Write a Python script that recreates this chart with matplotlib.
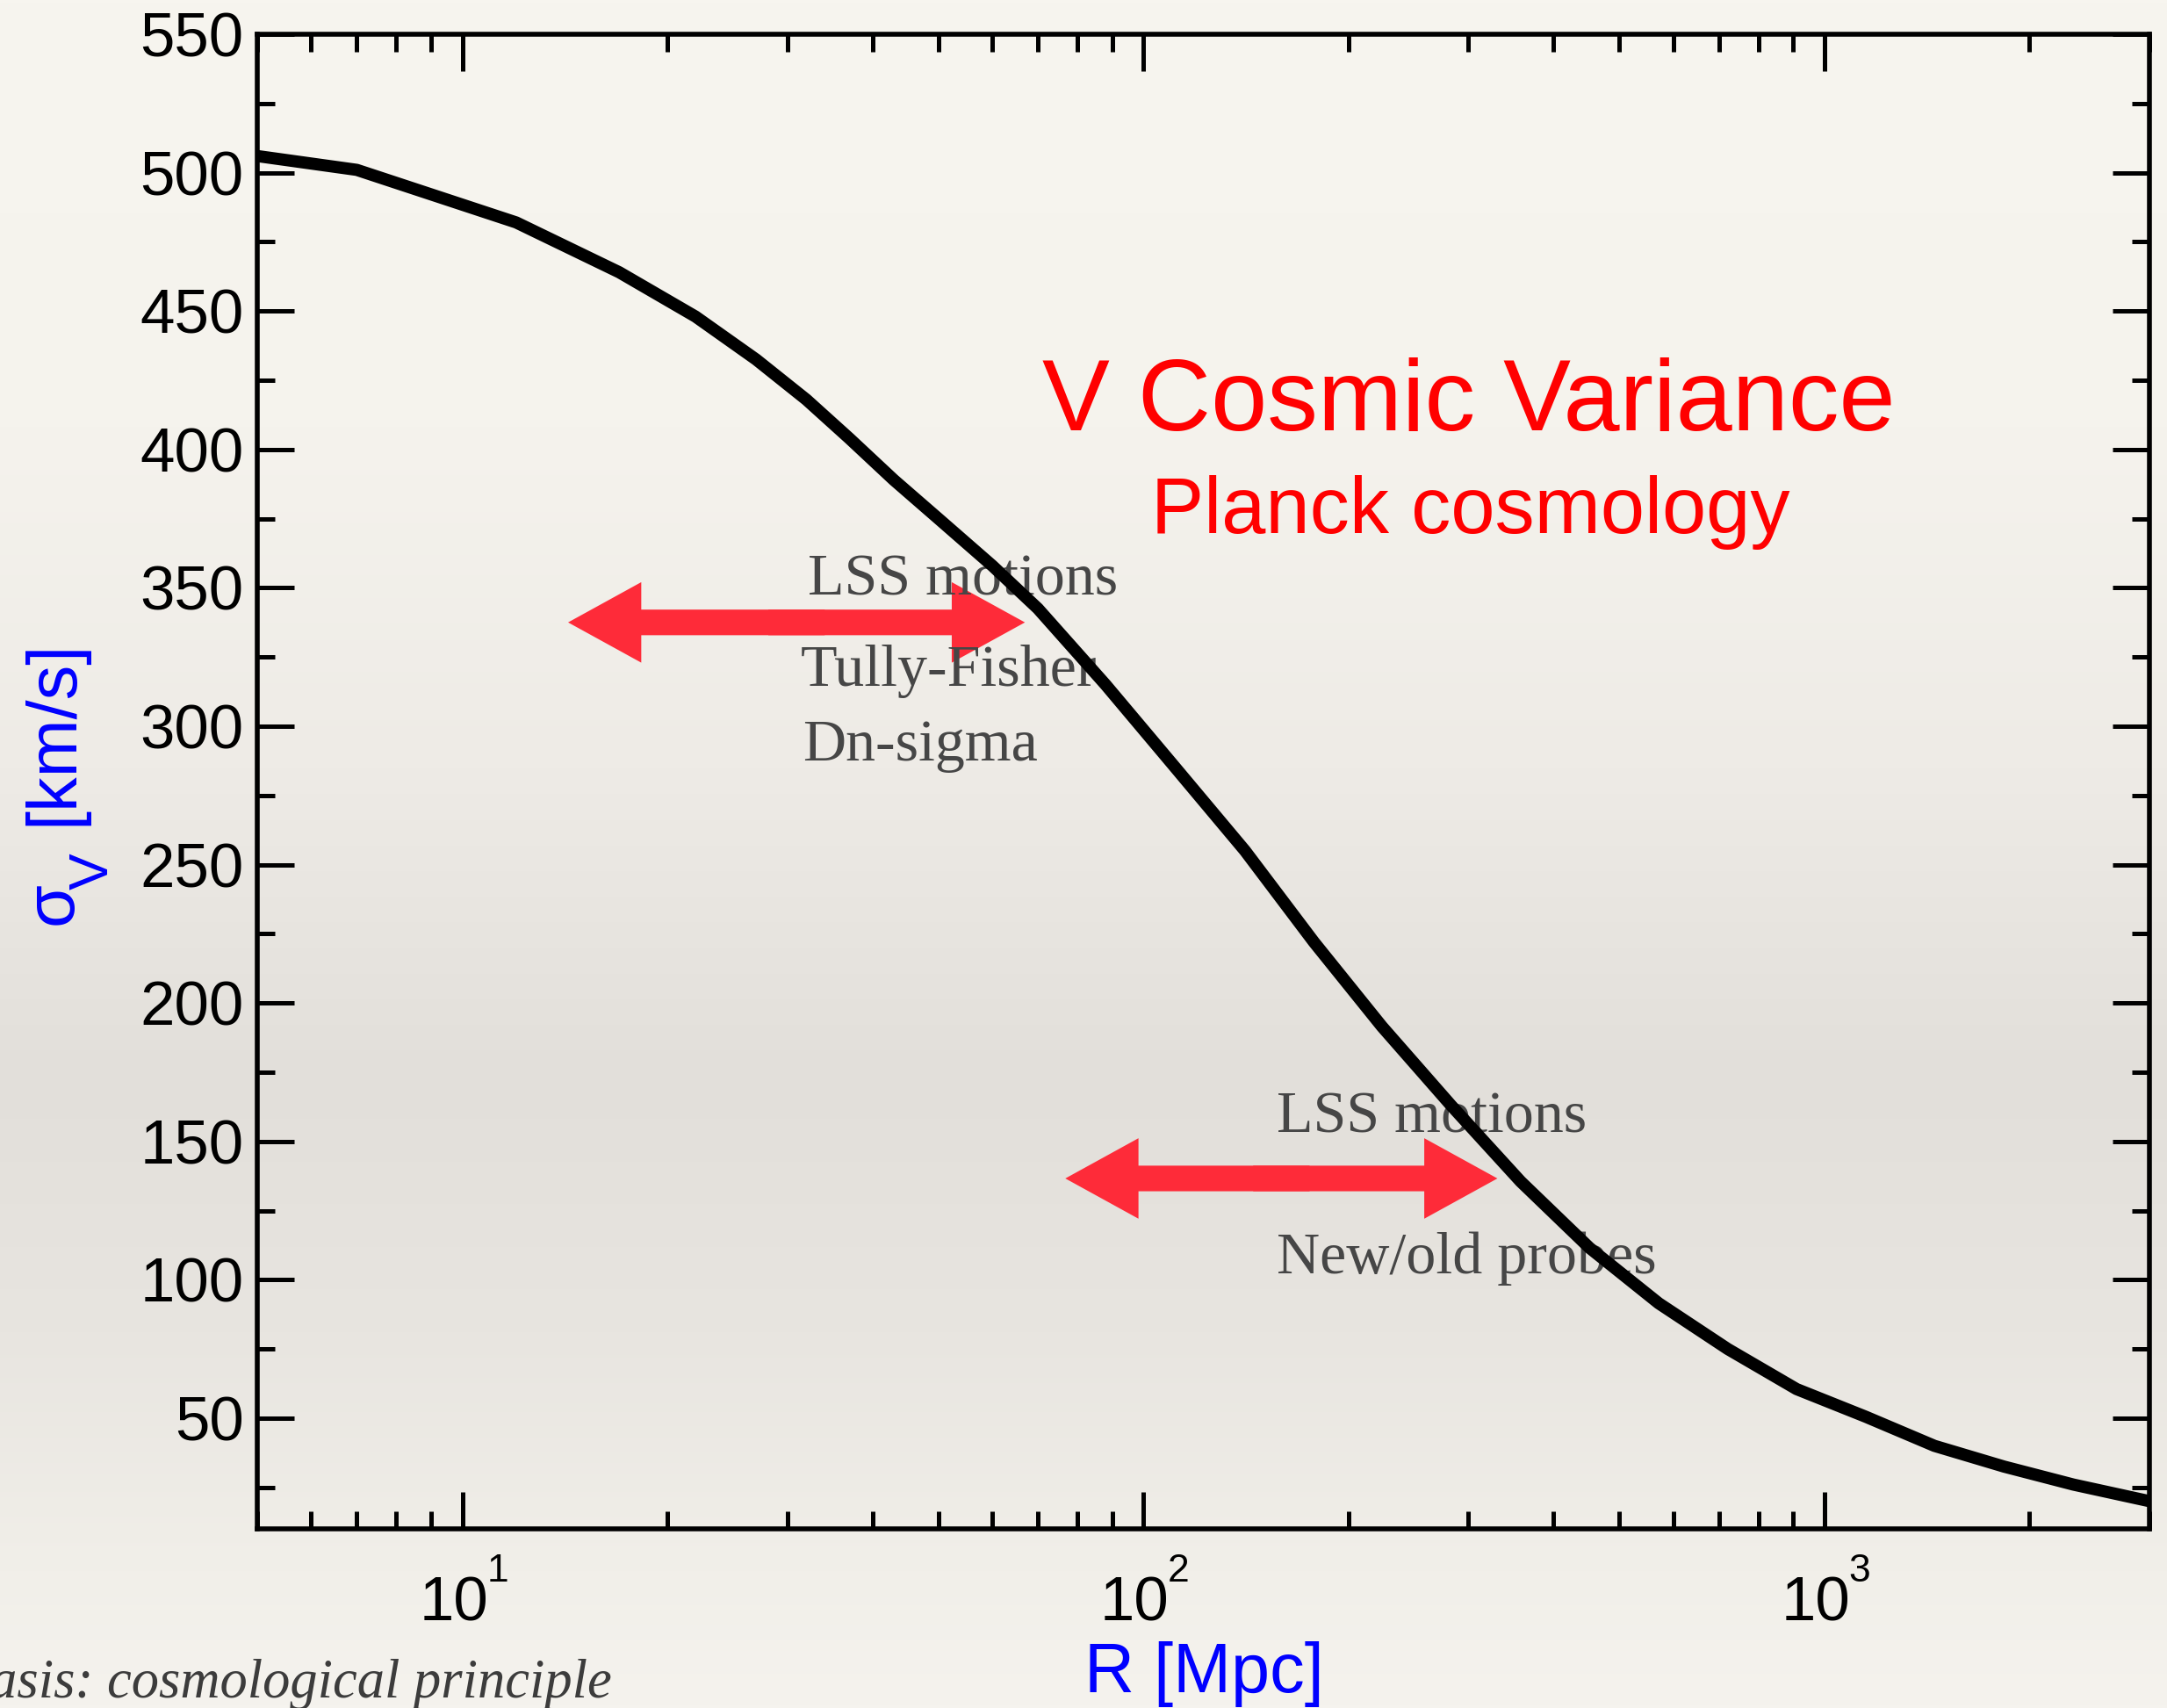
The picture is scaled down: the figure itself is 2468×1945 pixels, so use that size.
import numpy as np
import matplotlib
matplotlib.use('Agg')
import matplotlib.pyplot as plt
from matplotlib.patches import FancyArrowPatch, ArrowStyle
from matplotlib.ticker import MultipleLocator, LogLocator, NullFormatter

plt.rcParams['font.family'] = ['Liberation Sans', 'DejaVu Sans']

# velocity dispersion vs smoothing scale
R = [5, 7, 12, 17, 22, 27, 32, 37, 43, 50, 60, 70, 88, 111, 141, 178, 224,
     283, 358, 452, 571, 721, 910, 1150, 1450, 1835, 2320, 3000]
sigma_v = [506, 501, 482, 464, 448, 432.5, 418, 404, 389, 375, 358, 342.5, 315,
           285.5, 255, 222, 191.5, 163, 135.5, 111.5, 91.5, 75, 60.5, 50.5, 40,
           32.5, 26, 20]

# ranges covered by the probes: (R from, R to, sigma level)
probe_ranges = [(14.3, 67.0, 337.5), (76.8, 331.0, 136.6)]

decades = [1, 2, 3]

W, H = 2468, 1945
fig = plt.figure(figsize=(W / 100, H / 100), dpi=100)

# paper-like background, slightly darker band below the middle
bg = fig.add_axes([0, 0, 1, 1], zorder=-10)
bg.axis('off')
stop_pos = [0.0, 0.25, 0.45, 0.63, 0.78, 0.92, 1.0]
stop_col = np.array([[247, 245, 239], [245, 243, 237], [238, 235, 230],
                     [226, 223, 218], [232, 229, 224], [241, 239, 233],
                     [245, 243, 238]]) / 255.0
yy = np.linspace(0, 1, 600)
grad = np.stack([np.interp(yy, stop_pos, stop_col[:, k]) for k in range(3)], axis=-1)
bg.imshow(grad[:, None, :], aspect='auto', extent=[0, 1, 0, 1], origin='upper')
bg.set_xlim(0, 1)
bg.set_ylim(0, 1)

ax = fig.add_axes([293 / W, 1 - 1741 / H, (2448 - 293) / W, (1741 - 39) / H])
ax.set_facecolor('none')

ax.plot(R, sigma_v, color='black', lw=10, zorder=4)

ax.set_xscale('log')
ax.set_xlim(5, 3000)
ax.set_ylim(10, 550)
ax.yaxis.set_major_locator(MultipleLocator(50))
ax.yaxis.set_minor_locator(MultipleLocator(25))
ax.xaxis.set_major_locator(LogLocator(base=10))
ax.xaxis.set_minor_locator(LogLocator(base=10, subs=np.arange(2, 10)))
ax.xaxis.set_minor_formatter(NullFormatter())
ax.xaxis.set_major_formatter(NullFormatter())

for s in ax.spines.values():
    s.set_linewidth(4)
ax.tick_params(which='both', direction='in', top=True, right=True, width=3.6)
ax.tick_params(which='major', length=30, labelsize=51, pad=11)
ax.tick_params(which='minor', length=14.5)

# IDL-like "10" with raised exponent under each decade
for e in decades:
    ax.annotate('10', xy=(10 ** e, 0), xycoords=('data', 'axes fraction'),
                xytext=(-7, -75), textcoords='offset points', fontsize=51,
                ha='center', va='baseline', annotation_clip=False)
    ax.annotate(str(e), xy=(10 ** e, 0), xycoords=('data', 'axes fraction'),
                xytext=(20, -43), textcoords='offset points', fontsize=32,
                ha='left', va='baseline', annotation_clip=False)

# double-headed red arrows
red = '#fe2b39'
style = ArrowStyle.Simple(head_length=60, head_width=66, tail_width=21)
for x0, x1, y in probe_ranges:
    xm = np.sqrt(x0 * x1)
    for xs, xe in ((xm * 1.1, x0), (xm / 1.1, x1)):
        ax.add_patch(FancyArrowPatch((xs, y), (xe, y), arrowstyle=style,
                                     mutation_scale=1, color=red, lw=0,
                                     shrinkA=0, shrinkB=0, zorder=2))

# probe labels
gray = '#464646'
serif = ['Liberation Serif', 'DejaVu Serif']
labels = [("LSS motions", 920, 677), ("Tully-Fisher", 912, 781),
          ("Dn-sigma", 914, 866), ("LSS motions", 1454, 1290),
          ("New/old probes", 1454, 1450)]
for txt, px, py in labels:
    ax.text(px / W, 1 - py / H, txt, transform=fig.transFigure, family=serif,
            fontsize=49, color=gray, ha='left', va='baseline', zorder=3)

fig.text(1673 / W, 1 - 490 / H, 'V Cosmic Variance', color='#ff0000',
         fontsize=83, ha='center', va='baseline')
fig.text(1675 / W, 1 - 607 / H, 'Planck cosmology', color='#ff0000',
         fontsize=65, ha='center', va='baseline')

blue = '#0000ff'
fig.text(1371 / W, 1 - 1927 / H, 'R [Mpc]', color=blue, fontsize=57,
         ha='center', va='baseline')

# rotated y label: sigma, lowered V subscript, then the unit
ylab = [('\u03c3', 82, 1053, 57), ('V', 123, 1013, 45), ('[km/s]', 82, 940, 57)]
for txt, px, py, fs in ylab:
    fig.text(px / W, 1 - py / H, txt, color=blue, fontsize=fs, rotation=90,
             rotation_mode='anchor', ha='left', va='baseline')

fig.text(697 / W, 1 - 1933 / H, 'Basis: cosmological principle', family=serif,
         fontstyle='italic', fontsize=45, color='#3c3c3c', ha='right',
         va='baseline')

fig.savefig('out.png', dpi=100)
